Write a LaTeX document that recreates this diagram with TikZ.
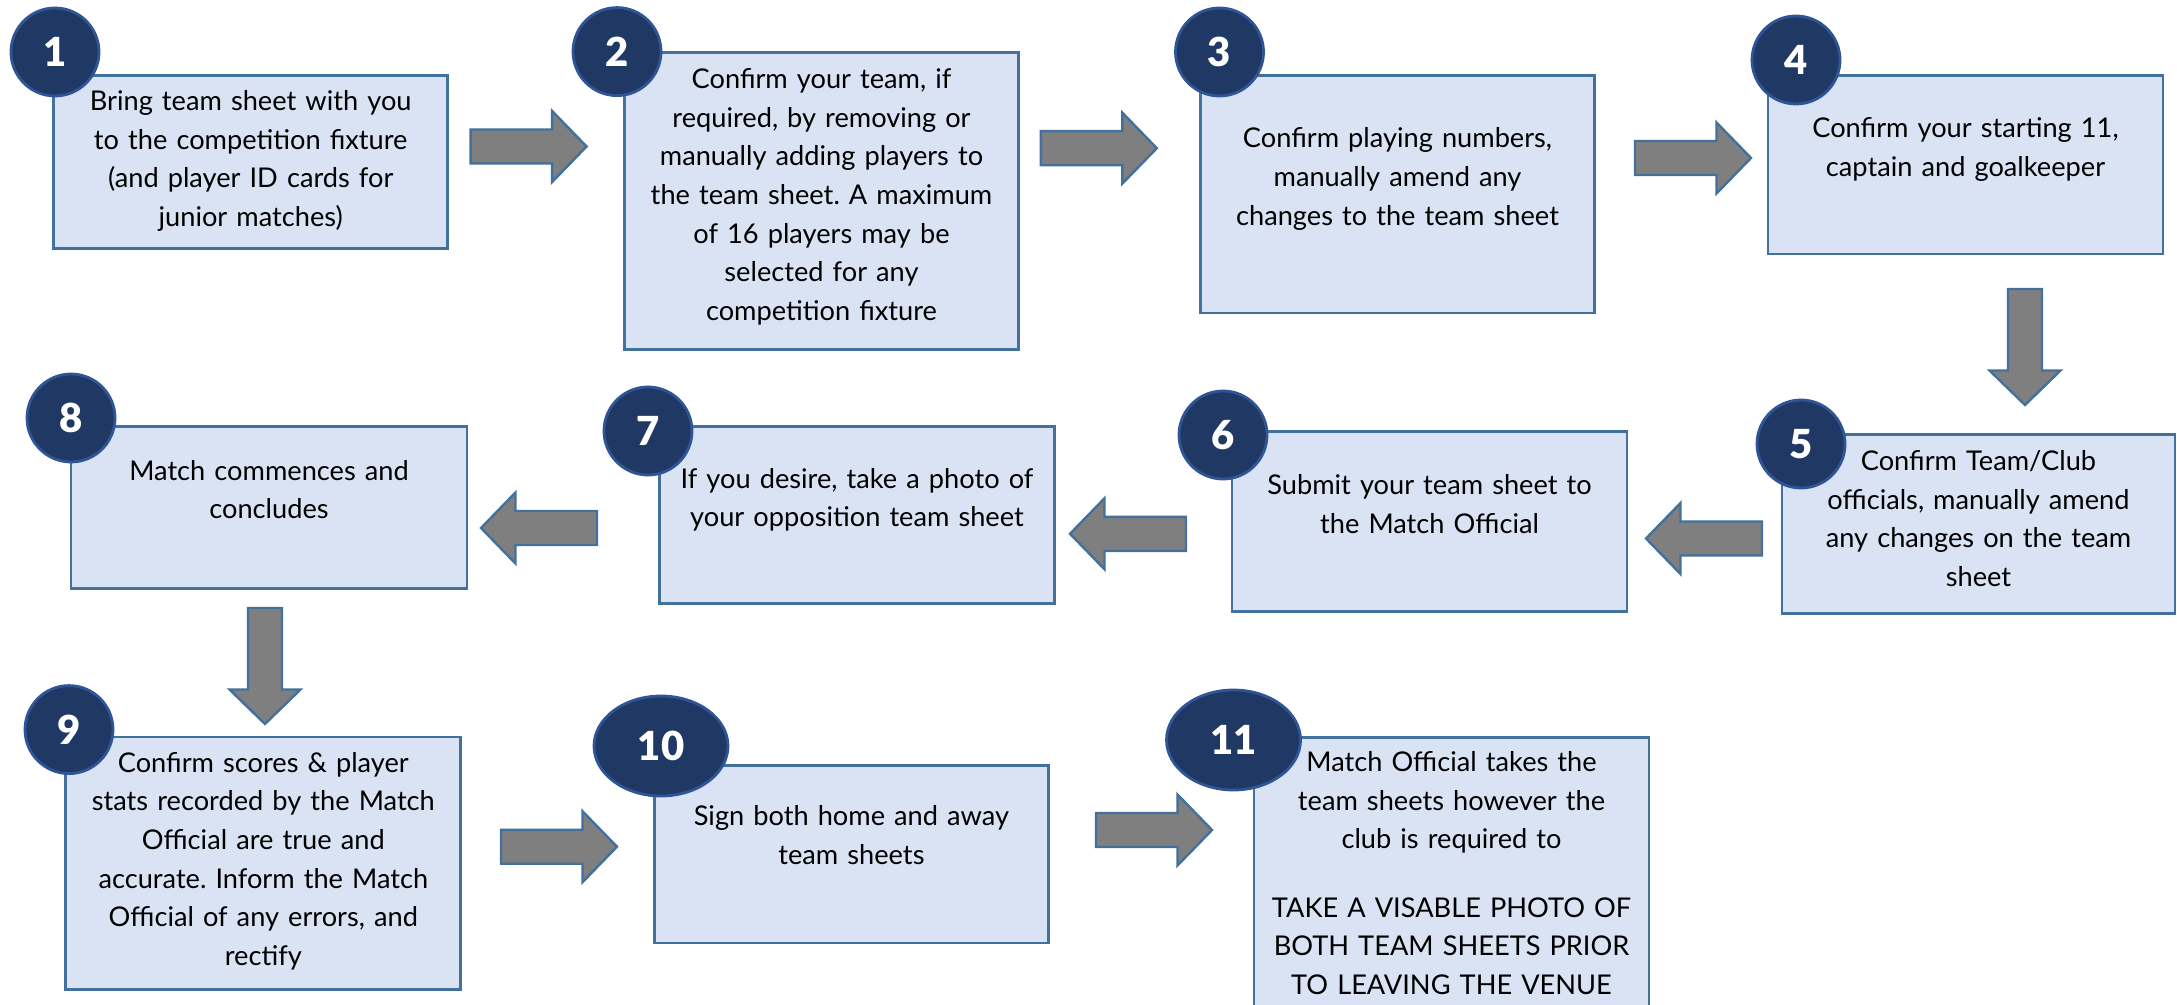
\documentclass[tikz,border=0pt]{standalone}
\usepackage{fontspec}
\setmainfont{Lato}
\IfFontExistsTF{Lato Black}{\newfontfamily\numfont{Lato Black}}{\newcommand\numfont{\bfseries}}
\usetikzlibrary{fit,shapes.geometric}
\definecolor{boxfill}{HTML}{DAE3F3}
\definecolor{boxline}{HTML}{41719C}
\definecolor{navy}{HTML}{203864}
\definecolor{navyline}{HTML}{2F5597}
\definecolor{arrfill}{HTML}{7F7F7F}
\frenchspacing
\tikzset{
 stepbox/.style={draw=boxline, fill=boxfill, line width=1.4pt, inner sep=0pt},
 steptext/.style={anchor=base, align=center, text width=196pt, inner sep=0pt,
   font=\fontsize{13.6}{19.3}\selectfont},
 stepnum/.style={circle, fill=navy, draw=navyline, line width=1.4pt, minimum size=44pt,
   inner sep=0pt, text=white, font=\fontsize{20}{20}\selectfont\numfont},
 stepoval/.style={ellipse, fill=navy, draw=navyline, line width=1.4pt, minimum width=67pt,
   minimum height=50pt, inner sep=0pt, text=white, font=\fontsize{20}{20}\selectfont\numfont},
 blockarrow/.style={fill=arrfill, draw=boxline, line width=1.2pt, line join=miter},
}
\newcommand\blockarr[4]{%
 \begin{scope}[shift={(#2,-#3)}, rotate=#4]
  \draw[blockarrow] (0,-17) -- (81.5,-17) -- (81.5,-35.5) -- (116,0) -- (81.5,35.5)
     -- (81.5,17) -- (0,17) -- cycle;
  \coordinate (#1) at (58,0);
 \end{scope}}
\begin{document}
\begin{tikzpicture}[x=0.5pt,y=0.5pt]
\clip (0,0) rectangle (2177,-1005);
\fill[white] (0,0) rectangle (2177,-1005);
% boxes
\node[stepbox, fit={(53.6,-75.4) (447.7,-248.8)}] (b1) {};
\node[stepbox, fit={(624.5,-52.6) (1018.6,-349.3)}] (b2) {};
\node[stepbox, fit={(1200.4,-75.7) (1594.7,-313)}] (b3) {};
\node[stepbox, fit={(1768,-75.7) (2163,-254)}] (b4) {};
\node[stepbox, fit={(1782,-434.5) (2175,-613.5)}] (b5) {};
\node[stepbox, fit={(1232,-431.7) (1627,-611.5)}] (b6) {};
\node[stepbox, fit={(659.7,-426.7) (1054.6,-603.3)}] (b7) {};
\node[stepbox, fit={(71,-426.7) (467,-588.3)}] (b8) {};
\node[stepbox, fit={(65.8,-737) (460.7,-989.2)}] (b9) {};
\node[stepbox, fit={(654.3,-765.5) (1048.5,-943)}] (b10) {};
\node[stepbox, fit={(1254,-737.3) (1649,-1040)}] (b11) {};
% texts
\node[steptext] (t1) at (250.7,-110.5) {Bring team sheet with you\\to the competition fixture\\(and player ID cards for\\junior matches)};
\node[steptext] (t2) at (821.5,-88.7) {Confirm your team, if\\required, by removing or\\manually adding players to\\the team sheet. A maximum\\of 16 players may be\\selected for any\\competition fixture};
\node[steptext] (t3) at (1397.5,-148) {Confirm playing numbers,\\manually amend any\\changes to the team sheet};
\node[steptext] (t4) at (1965.5,-138) {Confirm your starting 11,\\captain and goalkeeper};
\node[steptext] (t5) at (1978.5,-470.6) {Confirm Team/Club\\officials, manually amend\\any changes on the team\\sheet};
\node[steptext] (t6) at (1429.5,-494.6) {Submit your team sheet to\\the Match Official};
\node[steptext] (t7) at (857,-488.3) {If you desire, take a photo of\\your opposition team sheet};
\node[steptext] (t8) at (269,-480) {Match commences and\\concludes};
\node[steptext] (t9) at (263.3,-772.2) {Confirm scores \& player\\stats recorded by the Match\\Official are true and\\accurate. Inform the Match\\Official of any errors, and\\rectify};
\node[steptext] (t10) at (851.4,-825.8) {Sign both home and away\\team sheets};
\node[steptext] (t11) at (1451.5,-771.7) {Match Official takes the\\team sheets however the\\club is required to\\[14.9pt]TAKE A VISABLE PHOTO OF\\BOTH TEAM SHEETS PRIOR\\TO LEAVING THE VENUE};
% numbers
\node[stepnum] (n1) at (55,-52) {1};
\node[stepnum] (n2) at (617,-51.6) {2};
\node[stepnum] (n3) at (1219.5,-52) {3};
\node[stepnum] (n4) at (1796,-60) {4};
\node[stepnum] (n5) at (1801,-444) {5};
\node[stepnum] (n6) at (1223,-435) {6};
\node[stepnum] (n7) at (648,-431) {7};
\node[stepnum] (n8) at (71,-418) {8};
\node[stepnum] (n9) at (69,-729.6) {9};
\node[stepoval] (n10) at (661,-746) {10};
\node[stepoval] (n11) at (1233.5,-740) {11};
% block arrows
\blockarr{a12}{470.6}{146.5}{0}
\blockarr{a23}{1040.8}{148.2}{0}
\blockarr{a34}{1635}{158}{0}
\blockarr{a45}{2025}{289}{-90}
\blockarr{a56}{1762}{538.5}{180}
\blockarr{a67}{1186}{533.8}{180}
\blockarr{a78}{597}{528}{180}
\blockarr{a89}{265}{608}{-90}
\blockarr{a910}{501}{846.7}{0}
\blockarr{a1011}{1096}{830}{0}
\end{tikzpicture}
\end{document}
